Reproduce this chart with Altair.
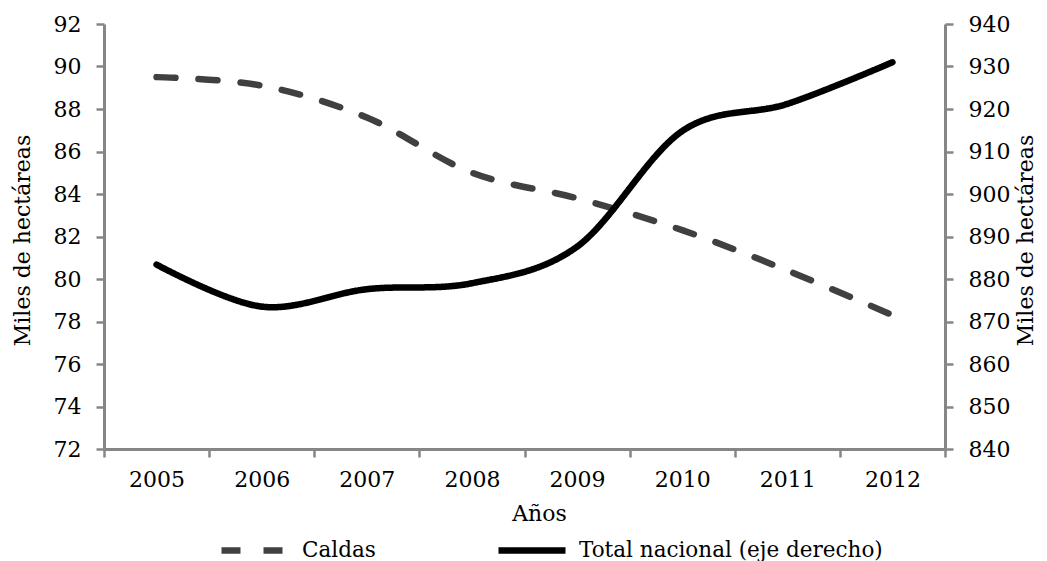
import altair as alt
import pandas as pd

years = ["2005", "2006", "2007", "2008", "2009", "2010", "2011", "2012"]
caldas = [89.5, 89.1, 87.6, 85.0, 83.8, 82.3, 80.4, 78.3]
total = [883.4, 873.5, 877.6, 879.0, 887.6, 914.8, 921.2, 931.0]
series = ["Caldas", "Total nacional (eje derecho)"]
left_ticks = list(range(72, 93, 2))
right_ticks = list(range(840, 941, 10))

df_c = pd.DataFrame({"Año": years, "valor": caldas, "serie": series[0]})
df_t = pd.DataFrame({"Año": years, "valor": total, "serie": series[1]})

FONT = "DejaVu Serif"
AXIS_COLOR = "#868686"

legend = alt.Legend(
    title=None, orient="none", legendX=114, legendY=489.5, direction="horizontal",
    symbolType="stroke", symbolSize=4489, symbolStrokeWidth=6.5,
    labelOffset=10, columnPadding=109, labelFont=FONT, labelFontSize=21.5,
    labelColor="black", labelLimit=500, padding=0,
)

x = alt.X(
    "Año:O",
    scale=alt.Scale(type="band", paddingInner=0, paddingOuter=0),
    axis=alt.Axis(title="Años", labelAngle=0, tickBand="extent", labelPadding=12,
                  titleX=435, titleY=71, titleAlign="center", titleBaseline="alphabetic"),
)
color = alt.Color("serie:N", scale=alt.Scale(domain=series, range=["#404040", "#000000"]), legend=legend)
dash = alt.StrokeDash("serie:N", scale=alt.Scale(domain=series, range=[[19, 23], [1, 0]]), legend=legend)

caldas_line = alt.Chart(df_c).mark_line(
    interpolate="cardinal", strokeWidth=6.5, strokeCap="round", strokeJoin="round"
).encode(
    x=x,
    y=alt.Y("valor:Q", scale=alt.Scale(domain=[72, 92], nice=False, zero=False),
            axis=alt.Axis(orient="left", values=left_ticks, title="Miles de hectáreas",
                          labelPadding=15, titleAngle=270, titleX=-75, titleY=216,
                          titleAlign="center", titleBaseline="alphabetic")),
    color=color,
    strokeDash=dash,
)

total_line = alt.Chart(df_t).mark_line(
    interpolate="cardinal", strokeWidth=6.5, strokeCap="round", strokeJoin="round"
).encode(
    x=x,
    y=alt.Y("valor:Q", scale=alt.Scale(domain=[840, 940], nice=False, zero=False),
            axis=alt.Axis(orient="right", values=right_ticks, title="Miles de hectáreas",
                          labelPadding=15, titleAngle=270, titleX=87, titleY=216,
                          titleAlign="center", titleBaseline="alphabetic")),
    color=color,
    strokeDash=dash,
)

chart = alt.layer(caldas_line, total_line).resolve_scale(y="independent").properties(
    width=841, height=425,
    autosize=alt.AutoSizeParams(type="none"),
    padding={"left": 96, "top": 16, "right": 94, "bottom": 112},
).configure_axis(
    labelFont=FONT, titleFont=FONT, labelFontSize=22, titleFontSize=22,
    labelColor="black", titleColor="black", titleFontWeight="normal",
    domainColor=AXIS_COLOR, tickColor=AXIS_COLOR, domainWidth=3, tickWidth=2.5,
    tickSize=8, grid=False,
).configure_view(stroke=None)

chart.save("out.html", embed_options={"renderer": "svg", "actions": False})
